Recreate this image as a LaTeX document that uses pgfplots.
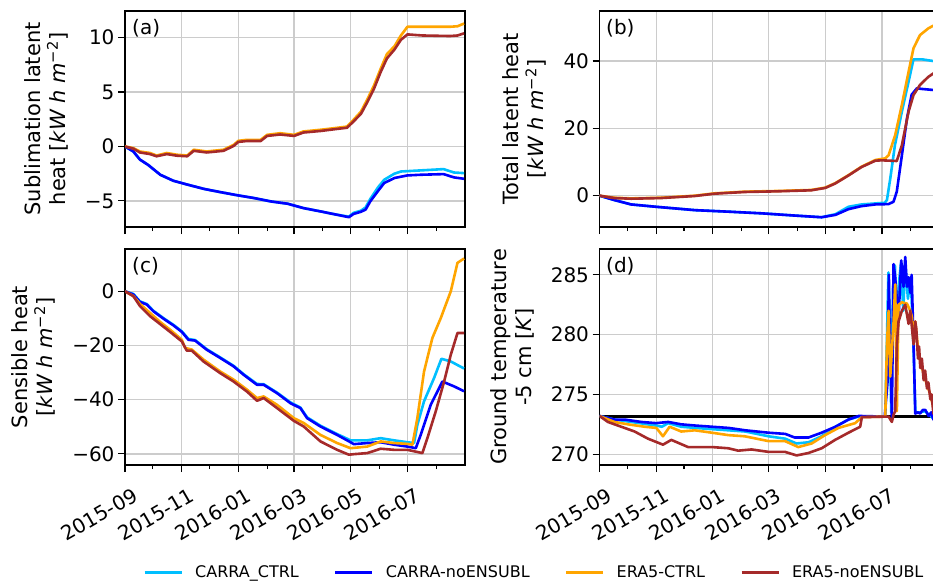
\documentclass[border=0pt]{standalone}
\usepackage{fontspec}
\setmainfont{DejaVu Sans}
\usepackage{pgfplots}
\pgfplotsset{compat=1.18}

\definecolor{carractrl}{RGB}{0,191,255}
\definecolor{carranoens}{RGB}{0,0,255}
\definecolor{eractrl}{RGB}{255,165,0}
\definecolor{eranoens}{RGB}{165,42,42}

\newcommand{\unitlab}{[\textit{kW h m}\textsuperscript{−2}]}

% x axis: days since 2015-09-01
\pgfplotsset{
  panel/.style={
    scale only axis, width=340pt, height=216pt,
    xmin=0, xmax=366,
    xtick={0,61,122,182,243,304},
    minor xtick={30,91,153,213,274,335},
    grid=major,
    major grid style={draw=black!20, line width=1.3pt},
    axis line style={line width=1.2pt, black},
    tick style={black, line width=1.2pt},
    tick align=outside,
    major tick length=7pt, minor tick length=4pt,
    xtick pos=left, ytick pos=left,
    tick label style={font=\fontsize{20}{24}\selectfont},
    label style={font=\fontsize{21}{25}\selectfont, align=center},
    ylabel shift=10pt,
    every axis plot/.append style={line width=2.6pt, line join=round, mark=none},
    /pgf/number format/assume math mode=true,
  },
  nolabels/.style={xticklabels={}},
  datelabels/.style={
    xticklabels={2015-09,2015-11,2016-01,2016-03,2016-05,2016-07},
    xticklabel style={font=\fontsize{20}{24}\selectfont, rotate=30, anchor=east, inner sep=0pt, xshift=-1.5pt, yshift=-24pt},
  },
}

\begin{document}
\begin{tikzpicture}
\useasboundingbox (0pt,0pt) rectangle (933pt,-585pt);
\clip (0pt,0pt) rectangle (933pt,-585pt);

% (a) sublimation latent heat
\begin{axis}[panel, nolabels, at={(125pt,-11pt)}, anchor=north west,
  ymin=-7.4, ymax=12.45,
  ytick={-5,0,5,10}, yticklabels={−5,0,5,10},
  ylabel={Sublimation latent\\heat \unitlab}]
\addplot[carractrl] coordinates {(0,0) (9,-0.46) (16,-1.2) (25,-1.7) (38,-2.6) (52,-3.15) (67,-3.5) (85,-3.9) (103,-4.2) (122,-4.5) (139,-4.74) (157,-5.05) (175,-5.26) (192,-5.66) (210,-5.96) (228,-6.27) (241,-6.45) (246,-6.1) (254,-5.9) (259,-5.6) (264,-4.83) (272,-3.8) (279,-3.06) (290,-2.5) (297,-2.3) (318,-2.2) (343,-2.08) (354,-2.39) (365,-2.45)};
\addplot[carranoens] coordinates {(0,0) (9,-0.46) (16,-1.2) (25,-1.7) (38,-2.6) (52,-3.15) (67,-3.5) (85,-3.9) (103,-4.2) (122,-4.5) (139,-4.74) (157,-5.05) (175,-5.26) (192,-5.66) (210,-5.96) (228,-6.27) (241,-6.5) (246,-6.2) (254,-6.0) (259,-5.8) (264,-5.05) (272,-4.13) (279,-3.36) (290,-2.9) (304,-2.66) (318,-2.6) (343,-2.54) (354,-2.84) (365,-2.97)};
\addplot[eractrl] coordinates {(0,0) (9,-0.15) (16,-0.46) (27,-0.6) (34,-0.83) (45,-0.6) (56,-0.76) (67,-0.83) (74,-0.3) (88,-0.46) (106,-0.3) (117,0.15) (122,0.52) (131,0.61) (146,0.61) (153,1.07) (167,1.22) (182,1.07) (192,1.38) (210,1.53) (225,1.68) (239,1.83) (246,2.45) (254,3.2) (261,4.35) (268,5.6) (275,7.1) (282,8.5) (290,9.2) (297,10.2) (304,11.0) (350,11.0) (358,11.05) (365,11.3)};
\addplot[eranoens] coordinates {(0,0) (9,-0.2) (16,-0.55) (27,-0.7) (34,-0.9) (45,-0.7) (56,-0.85) (67,-0.9) (74,-0.4) (88,-0.55) (106,-0.4) (117,0.05) (122,0.42) (131,0.5) (146,0.5) (153,0.97) (167,1.1) (182,0.97) (192,1.28) (210,1.42) (225,1.58) (239,1.72) (246,2.3) (254,3.0) (261,4.1) (268,5.3) (275,6.8) (282,8.1) (290,8.9) (297,9.8) (304,10.3) (320,10.2) (350,10.15) (358,10.2) (365,10.4)};
\node[anchor=north west, inner sep=0pt, font=\fontsize{20}{24}\selectfont] at (rel axis cs:0,1) [xshift=7pt, yshift=-8pt] {(a)};
\end{axis}

% (b) total latent heat
\begin{axis}[panel, nolabels, at={(599.5pt,-11pt)}, anchor=north west,
  ymin=-9.3, ymax=54.85,
  ytick={0,20,40}, yticklabels={0,20,40},
  ylabel={Total latent heat\\\unitlab}]
\addplot[carractrl] coordinates {(0,0) (16,-1.3) (34,-2.6) (61,-3.3) (103,-4.3) (139,-4.75) (175,-5.25) (210,-5.9) (239,-6.4) (254,-5.5) (268,-3.3) (282,-2.6) (297,-2.3) (307,-2.1) (309.4,-1.3) (313,5.1) (318,15) (325.5,25) (332.7,33.9) (338,40.5) (347,40.5) (359,40.0) (366,40.0)};
\addplot[carranoens] coordinates {(0,0) (16,-1.3) (34,-2.6) (61,-3.3) (103,-4.3) (139,-4.75) (175,-5.25) (210,-5.9) (239,-6.4) (254,-5.7) (268,-4.0) (282,-3.1) (297,-2.6) (311,-2.5) (316.5,-1.8) (320,1.2) (325.5,12) (331,23) (336,30) (341.7,31.9) (347,31.7) (359,31.4) (366,31.3)};
\addplot[eractrl] coordinates {(0,0) (16,-0.6) (34,-0.8) (66.5,-0.6) (102.5,0) (124,0.7) (156.5,1.2) (192,1.4) (228,1.7) (243,2.4) (253.6,3.7) (268,6.1) (282,8.6) (297,10.6) (307.6,11.1) (311.2,12) (318.3,18) (325.5,27) (332.7,36.8) (338,43.8) (345,47.7) (354,49.7) (359.4,50.5) (366,51.5)};
\addplot[eranoens] coordinates {(0,0) (16,-0.7) (34,-0.9) (66.5,-0.7) (102.5,-0.1) (124,0.6) (156.5,1.1) (192,1.3) (228,1.6) (243,2.3) (253.6,3.6) (268,6.0) (282,8.5) (297,10.4) (304,10.5) (320,10.3) (325.5,15) (332.7,25) (338,29.9) (345,32.9) (354,35.3) (359.4,36.3) (366,37)};
\node[anchor=north west, inner sep=0pt, font=\fontsize{20}{24}\selectfont] at (rel axis cs:0,1) [xshift=6.5pt, yshift=-8pt] {(b)};
\end{axis}

% (c) sensible heat
\begin{axis}[panel, datelabels, at={(125pt,-249pt)}, anchor=north west,
  ymin=-64.1, ymax=15.6,
  ytick={-60,-40,-20,0}, yticklabels={−60,−40,−20,0},
  ylabel={Sensible heat\\\unitlab},
  legend columns=4, legend cell align=left,
  legend image code/.code={\draw[#1, line width=3pt] (0pt,0pt) -- (37pt,0pt);},
  legend style={at={(axis description cs:0.053,-0.498)}, anchor=west,
    draw=none, fill=none, inner sep=0pt,
    font=\fontsize{16}{19}\selectfont,
    nodes={inner sep=0pt},
    /tikz/every odd column/.append style={column sep=12pt},
    /tikz/every even column/.append style={column sep=35pt}}]
\addplot[carractrl] coordinates {(0,0) (9,-1.0) (16,-3.7) (23.4,-4.7) (30.6,-7.2) (41.4,-9.9) (52.2,-12.4) (61.2,-14.8) (68.3,-17.6) (75.5,-18.0) (88.1,-21.4) (102.5,-24.4) (116.9,-27.5) (127.7,-30.6) (142.1,-34.2) (149.3,-34.3) (163.7,-37.4) (178.1,-41.0) (188.8,-42.9) (196,-46.5) (210.4,-49.6) (228.4,-52.7) (242.8,-55.0) (250,-55.0) (260.8,-55.0) (275.2,-54.2) (289.6,-55.0) (304,-55.7) (311.2,-56.0) (314.7,-49.3) (321.9,-40.6) (332.7,-32.0) (340.6,-24.9) (350.7,-25.9) (365,-28.5)};
\addlegendentry{CARRA\_CTRL}
\addplot[carranoens] coordinates {(0,0) (9,-1.2) (16,-3.9) (23.4,-4.9) (30.6,-7.4) (41.4,-10.1) (52.2,-12.6) (61.2,-15.0) (68.3,-17.9) (75.5,-18.2) (88.1,-21.6) (102.5,-24.6) (116.9,-27.7) (127.7,-30.8) (142.1,-34.5) (149.3,-34.5) (163.7,-37.6) (178.1,-41.3) (188.8,-43.1) (196,-46.8) (210.4,-49.9) (228.4,-53.0) (242.8,-55.7) (246.4,-56.4) (260.8,-56.0) (275.2,-55.7) (289.6,-56.6) (304,-57.3) (313,-57.9) (318.3,-53.0) (329.1,-41.9) (341.7,-33.3) (354.3,-35.1) (365,-36.9)};
\addlegendentry{CARRA-noENSUBL}
\addplot[eractrl] coordinates {(0,0) (9,-1.8) (16.2,-4.7) (27,-8.0) (37.8,-11.3) (48.6,-14.2) (61.2,-17.9) (64.7,-20.9) (71.9,-21.5) (84.5,-25.2) (102.5,-29.6) (116.9,-32.6) (131.3,-36.3) (142.1,-39.4) (149.3,-38.8) (163.7,-41.9) (181.7,-46.8) (192.4,-48.6) (210.4,-53.0) (228.4,-56.0) (242.8,-57.9) (260.8,-57.3) (275.2,-55.4) (289.6,-56.0) (304,-56.3) (309.4,-56.6) (314.7,-46.8) (321.9,-29.6) (330.9,-17.2) (339.9,-9.9) (350.7,0) (357.9,10.5) (365,12.1)};
\addlegendentry{ERA5-CTRL}
\addplot[eranoens] coordinates {(0,0) (9,-1.8) (16.2,-5.5) (27,-9.2) (37.8,-12.1) (48.6,-15.0) (61.2,-18.5) (66.5,-21.9) (71.9,-21.9) (84.5,-25.9) (102.5,-30.2) (116.9,-33.3) (131.3,-37.0) (142.1,-40.4) (149.3,-39.4) (163.7,-43.1) (181.7,-47.8) (192.4,-49.9) (210.4,-55.4) (228.4,-58.5) (241,-60.3) (246.4,-60.1) (260.8,-59.7) (275.2,-58.1) (289.6,-58.5) (304,-58.5) (320.1,-59.7) (325.5,-54.2) (334.5,-44.3) (343.5,-33.3) (350.7,-23.4) (357.9,-15.4) (365,-15.4)};
\addlegendentry{ERA5-noENSUBL}
\node[anchor=north west, inner sep=0pt, font=\fontsize{20}{24}\selectfont] at (rel axis cs:0,1) [xshift=7pt, yshift=-8pt] {(c)};
\end{axis}

% (d) ground temperature at -5 cm
\begin{axis}[panel, datelabels, at={(599.5pt,-249pt)}, anchor=north west,
  ymin=269.1, ymax=287.16,
  ytick={270,275,280,285}, yticklabels={270,275,280,285},
  ylabel={Ground temperature\\-5 cm [\textit{K}]}]
\addplot[black, line width=2.4pt] coordinates {(0,273.15) (366,273.15)};
\addplot[carractrl] coordinates {(0,273.2) (16,272.9) (34,272.7) (52,272.5) (61,272.4) (67,272.3) (74,272.6) (88,272.3) (103,272.2) (121,272.1) (139,272.0) (157,271.9) (182,271.5) (200,271.3) (212,270.9) (225,271.0) (239,271.5) (254,272.3) (268,272.9) (279,273.15) (307.6,273.15) (309.5,280) (311,285.2) (312.5,281) (314,273.5) (316,284) (318,285.8) (320,279) (322,284) (324.5,286) (327,282) (329,286) (332,283) (335,284.8) (338,279) (340,273.5) (345,273.5) (350,273.6) (355,273.3) (359,273.0) (366,272.9)};
\addplot[carranoens] coordinates {(0,273.2) (16,272.9) (27,272.9) (45,272.7) (61,272.6) (74,272.7) (88,272.5) (103,272.4) (121,272.3) (139,272.2) (157,272.0) (182,271.8) (200,271.7) (210,271.4) (225,271.4) (239,271.8) (254,272.3) (268,272.9) (279,273.2) (307,273.15) (310,276) (311.5,285.0) (312.5,279) (313.5,277.5) (314.7,273.0) (316.5,285.9) (318.3,284.8) (320,283) (321.9,281.4) (324.8,286.2) (327.3,284.0) (329.1,286.5) (331,284) (332.7,284.8) (334.5,283.5) (336,285.0) (338.1,279.2) (339.9,273.4) (343,273.5) (345,273.4) (348,273.7) (350.7,273.7) (354.3,273.2) (357,273.5) (359.4,272.9) (366,272.8)};
\addplot[eractrl] coordinates {(0,273.2) (16,272.7) (30.6,272.5) (48.6,272.3) (61.2,272.2) (68.3,271.5) (75.5,272.3) (88,271.9) (102.5,272.0) (121,271.8) (138.5,271.6) (156.5,271.5) (181.7,271.1) (199.6,271.1) (214,270.6) (228.4,270.9) (242.8,271.6) (257.2,272.2) (275.2,272.6) (282.4,273.1) (307.6,273.15) (309.4,279.2) (311.2,282) (313,276.5) (314.7,278.6) (316.5,281) (318.3,284.2) (320.1,273.6) (321.9,282.5) (325.5,282.7) (330.9,282.6) (334.5,282.0) (336.3,281.5) (338.1,279.2) (339.9,281.1) (342.8,278.9) (345.3,277.8) (348.9,276.7) (352.5,275.8) (356.1,275.0) (359.4,273.9) (366,273.0)};
\addplot[eranoens] coordinates {(0,273.2) (9,272.7) (23.4,272.3) (37.8,271.9) (52.2,271.3) (68.3,270.8) (77.3,271.2) (95.3,270.6) (109.7,270.6) (121.2,270.6) (138.5,270.5) (149.3,270.3) (163.7,270.4) (181.7,270.2) (199.6,270.2) (212.2,269.9) (224.8,270.1) (239.2,270.5) (253.6,271.2) (268,271.8) (280.6,272.3) (282.4,273.1) (311.2,273.15) (314.7,272.7) (316.5,273.3) (318.3,273.6) (320.1,279.2) (321.9,281.1) (325.5,282.0) (329.1,282.5) (332.7,280.9) (334.5,282.0) (338.1,279.2) (339.9,281.1) (341,280.5) (342.8,278.0) (344,279) (345.3,277.2) (347,278) (348.9,276.2) (350.5,277) (352.5,275.5) (354,276) (356.1,274.6) (357.5,275) (359.4,273.4) (366,273.0)};
\node[anchor=north west, inner sep=0pt, font=\fontsize{20}{24}\selectfont] at (rel axis cs:0,1) [xshift=6.5pt, yshift=-8pt] {(d)};
\end{axis}
\end{tikzpicture}
\end{document}
